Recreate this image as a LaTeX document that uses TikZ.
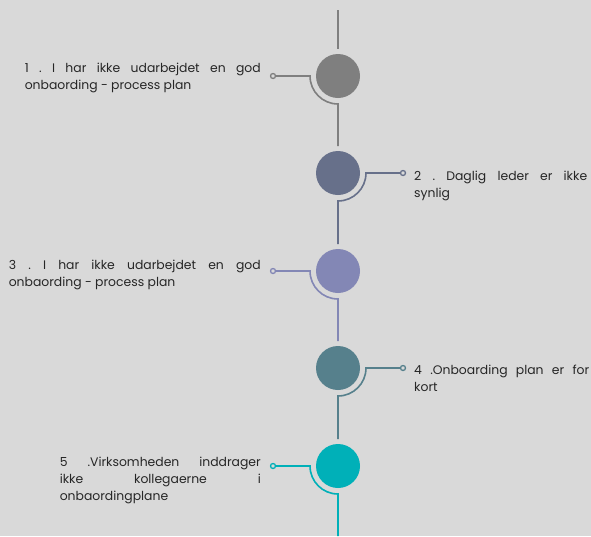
\documentclass[tikz,border=0pt]{standalone}
\usepackage{fontspec}
\setmainfont{Poppins}
\frenchspacing
\definecolor{bg}{HTML}{D9D9D9}
\definecolor{txt}{HTML}{262626}
\definecolor{cA}{HTML}{7F7F7F}
\definecolor{cB}{HTML}{67708A}
\definecolor{cC}{HTML}{8387B5}
\definecolor{cD}{HTML}{56808C}
\definecolor{cE}{HTML}{00B0B8}
\begin{document}
\begin{tikzpicture}[x=1pt,y=-1pt,
  bigdot/.style={circle,minimum size=44pt,inner sep=0pt},
  enddot/.style={circle,draw,line width=1.3pt,fill=bg,minimum size=5pt,inner sep=0pt},
  link/.style={line width=1.6pt},
  label/.style={inner sep=0pt,text=txt,font=\fontsize{12.4}{17}\selectfont,align=left}]
\fill[bg] (0,0) rectangle (591,536);
\useasboundingbox (0,0) rectangle (591,536);
% circles
\node[bigdot,fill=cA] (c1) at (338,76) {};
\node[bigdot,fill=cB] (c2) at (338,173) {};
\node[bigdot,fill=cC] (c3) at (338,271) {};
\node[bigdot,fill=cD] (c4) at (338,368) {};
\node[bigdot,fill=cE] (c5) at (338,466) {};
% coordinates
\coordinate (top) at (338,10);
\coordinate (bot) at (338,536);
\foreach \i/\y in {1/76,2/173,3/271,4/368,5/466}{
  \coordinate (u\i) at (338,\y-27);
  \coordinate (b\i) at (338,\y+28);
}
\coordinate (a1) at (310,76);
\coordinate (a2) at (366,173);
\coordinate (a3) at (310,271);
\coordinate (a4) at (366,368);
\coordinate (a5) at (310,466);
% end dots
\node[enddot,draw=cA] (e1) at (273,76) {};
\node[enddot,draw=cB] (e2) at (403,173) {};
\node[enddot,draw=cC] (e3) at (273,271) {};
\node[enddot,draw=cD] (e4) at (403,368) {};
\node[enddot,draw=cE] (e5) at (273,466) {};
% connectors
\draw[link,cA] (top) -- (u1);
\draw[link,cA] (e1) -- (a1) arc[start angle=180,end angle=90,radius=28] -- (u2);
\draw[link,cB] (e2) -- (a2) arc[start angle=0,end angle=90,radius=28] -- (u3);
\draw[link,cC] (e3) -- (a3) arc[start angle=180,end angle=90,radius=28] -- (u4);
\draw[link,cD] (e4) -- (a4) arc[start angle=0,end angle=90,radius=28] -- (u5);
\draw[link,cE] (e5) -- (a5) arc[start angle=180,end angle=90,radius=28] -- (bot);
% texts
\node[label,anchor=north east] (t1) at (261,63) {\makebox[236pt][s]{1 . I har ikke udarbejdet en god}\\onbaording - process plan};
\node[label,anchor=north west] (t2) at (414,170.5) {\makebox[173pt][s]{2 . Daglig leder er ikke}\\synlig};
\node[label,anchor=north east] (t3) at (261,260) {\makebox[252pt][s]{3 . I har ikke udarbejdet en god}\\onbaording - process plan};
\node[label,anchor=north west] (t4) at (414,365) {\makebox[175pt][s]{4 .Onboarding plan er for}\\kort};
\node[label,anchor=north east] (t5) at (261,457) {\makebox[201pt][s]{5 .Virksomheden inddrager}\\\makebox[201pt][s]{ikke kollegaerne i}\\onbaordingplane};
\end{tikzpicture}
\end{document}
